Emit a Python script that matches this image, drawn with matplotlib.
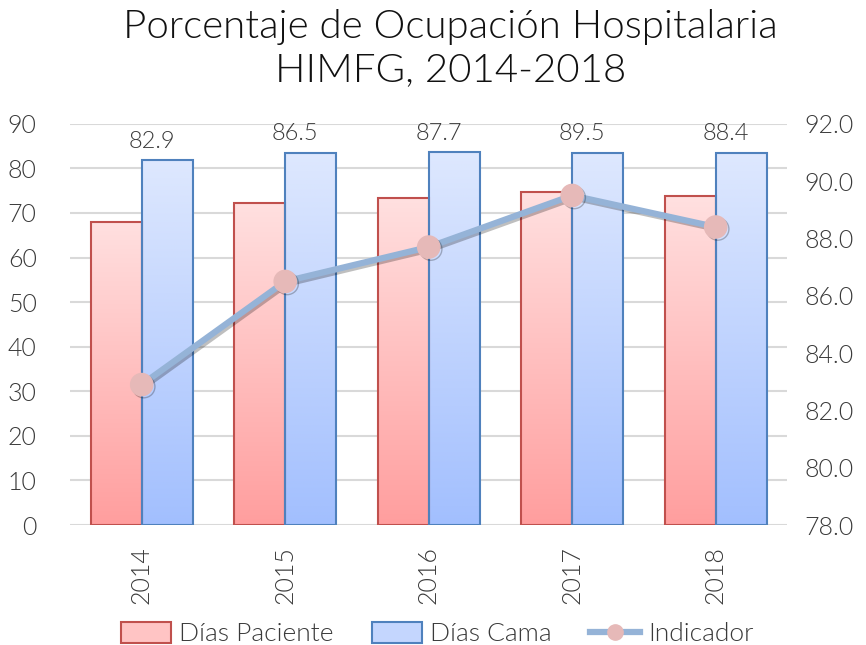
import matplotlib
matplotlib.use("Agg")
import matplotlib.pyplot as plt
import numpy as np
from matplotlib.patches import Patch
from matplotlib.lines import Line2D
import matplotlib.patheffects as pe
from matplotlib import font_manager as fm

years = ["2014", "2015", "2016", "2017", "2018"]
dias_paciente = [68.0, 72.3, 73.4, 74.7, 73.8]
dias_cama = [81.9, 83.5, 83.7, 83.5, 83.5]
indicador = [82.9, 86.5, 87.7, 89.5, 88.4]
left_ticks = [0, 10, 20, 30, 40, 50, 60, 70, 80, 90]
right_ticks = [78.0, 80.0, 82.0, 84.0, 86.0, 88.0, 90.0, 92.0]

# pick a light (not hairline) font file if available
light_file = None
for f in fm.findSystemFonts():
    b = f.split('/')[-1].lower()
    if b in ('lato-light.ttf',):
        light_file = f
        break
if light_file is None:
    for f in fm.findSystemFonts():
        b = f.split('/')[-1].lower()
        if 'light' in b and 'italic' not in b and ('opensans' in b or 'roboto' in b or 'lato' in b):
            light_file = f
            break

def fp(size):
    if light_file:
        return fm.FontProperties(fname=light_file, size=size)
    return fm.FontProperties(family='DejaVu Sans', size=size)

TXT = '#3A3A3A'

fig = plt.figure(figsize=(8.66, 6.45), dpi=100)
ax = fig.add_axes([0.0808, 0.186, 0.8285, 0.622])
ax2 = ax.twinx()

x = np.arange(len(years))
w = 0.355

def grad_bar(axis, xc, h, top, bottom, edge):
    grad = np.linspace(0, 1, 256).reshape(-1, 1)
    c_top = np.array(matplotlib.colors.to_rgb(top))
    c_bot = np.array(matplotlib.colors.to_rgb(bottom))
    img = c_bot[None, None, :] * (1 - grad[:, :, None]) + c_top[None, None, :] * grad[:, :, None]
    axis.imshow(img, extent=[xc - w / 2, xc + w / 2, 0, h], origin='lower',
                aspect='auto', zorder=2, interpolation='bilinear')
    axis.bar(xc, h, width=w, facecolor='none', edgecolor=edge, linewidth=1.5, zorder=3)

for i in range(len(years)):
    grad_bar(ax, x[i] - w / 2, dias_paciente[i], '#FFE0E0', '#FF9E9E', '#C0504D')
    grad_bar(ax, x[i] + w / 2, dias_cama[i], '#DEE8FE', '#A2BFFE', '#4F81BD')
    ax.annotate(f"{indicador[i]:.1f}", xy=(x[i] + 0.07, dias_cama[i]), xytext=(0, 6),
                textcoords='offset points', ha='center', va='bottom',
                fontproperties=fp(17), color=TXT)

ax.set_xlim(-0.5, len(years) - 0.5)
ax.set_ylim(0, 90)
ax.set_yticks(left_ticks)
ax.set_yticklabels([str(t) for t in left_ticks], fontproperties=fp(18), color=TXT)
ax.set_xticks(x)
ax.set_xticklabels(years, rotation=90, fontproperties=fp(18), color=TXT)
ax.tick_params(axis='x', length=0, pad=15)
ax.tick_params(axis='y', length=0, pad=24)
ax.grid(axis='y', color='#D9D9D9', linewidth=1.5, zorder=0)
ax.set_axisbelow(True)
for s in ax.spines.values():
    s.set_visible(False)

ax2.plot(x, indicador, color='#95B3D7', linewidth=4.5, marker='o', markersize=16,
         markerfacecolor='#E6B9B8', markeredgecolor='#E6B9B8', zorder=5,
         path_effects=[pe.SimpleLineShadow(offset=(1.5, -1.5), alpha=0.25), pe.Normal()])
ax2.set_ylim(78, 92)
ax2.set_yticks(right_ticks)
ax2.set_yticklabels([f"{t:.1f}" for t in right_ticks], fontproperties=fp(18), color=TXT)
ax2.tick_params(axis='y', length=0, pad=12)
for s in ax2.spines.values():
    s.set_visible(False)

fig.text(0.52, 0.958, "Porcentaje de Ocupación Hospitalaria", ha='center', va='center',
         fontproperties=fp(29), color='#111111')
fig.text(0.52, 0.892, "HIMFG, 2014-2018", ha='center', va='center',
         fontproperties=fp(29), color='#111111')

handles = [Patch(facecolor='#FFC4C4', edgecolor='#C0504D', linewidth=1.5),
           Patch(facecolor='#C4D6FE', edgecolor='#4F81BD', linewidth=1.5),
           Line2D([0], [0], color='#95B3D7', linewidth=4.5, marker='o', markersize=11,
                  markerfacecolor='#E6B9B8', markeredgecolor='#E6B9B8')]
leg = fig.legend(handles, ["Días Paciente", "Días Cama", "Indicador"], loc='center',
           bbox_to_anchor=(0.505, 0.017), ncol=3, frameon=False, prop=fp(19),
           handlelength=1.9, handleheight=0.85, columnspacing=1.45, handletextpad=0.3,
           labelcolor=TXT, borderpad=0)

fig.savefig("out.png", dpi=100)
